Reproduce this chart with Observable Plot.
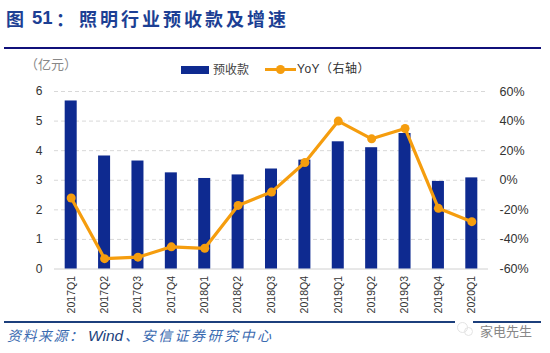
<!DOCTYPE html>
<html><head><meta charset="utf-8">
<script src="https://cdn.jsdelivr.net/npm/d3@7"></script>
<script src="https://cdn.jsdelivr.net/npm/@observablehq/plot@0.6"></script>
<style>
html,body{margin:0;padding:0;background:#fff;width:550px;height:353px;overflow:hidden;font-family:"Noto Sans CJK SC","Noto Sans",sans-serif}
#wrap{position:relative;width:550px;height:353px}
#wrap svg{position:absolute;left:0;top:0;background:transparent}
.t{position:absolute;white-space:nowrap;line-height:1}
.r{position:absolute;left:4px;width:537px;height:2px}
</style></head><body>
<div id="wrap">
<div id="chart"></div>
<div class="t" style="left:6px;top:9px;font-size:18px;font-weight:700;color:#1c3f94">图</div>
<div class="t" style="left:32px;top:9px;font-size:18.5px;font-weight:700;color:#1c3f94;font-family:'Liberation Sans'">51</div>
<div class="t" style="left:56px;top:9px;font-size:18px;font-weight:700;color:#1c3f94">：</div>
<div class="t" style="left:79px;top:9px;font-size:18px;font-weight:700;color:#1c3f94;letter-spacing:3px">照明行业预收款及增速</div>
<div class="r" style="top:46.5px;background:#10107a"></div>
<div class="r" style="top:321px;background:#1c3f7c"></div>
<div style="position:absolute;left:455px;top:318px;width:18px;height:16px;background:#fff"></div>
<div style="position:absolute;left:457px;top:322px;width:9px;height:9px;border-radius:50%;border:1.5px solid #e4e4e4"></div>
<div style="position:absolute;left:464px;top:327px;width:7px;height:7px;border-radius:50%;border:1.5px solid #e4e4e4"></div>
<div class="t" style="left:25px;top:57px;font-size:13px;color:#888">（亿元）</div>
<div style="position:absolute;left:181px;top:65.5px;width:28px;height:8px;background:#0e2a90"></div>
<div class="t" style="left:213px;top:63px;font-size:12px;color:#444">预收款</div>
<div style="position:absolute;left:265px;top:68px;width:31px;height:3px;background:#f59d0e"></div>
<div style="position:absolute;left:276px;top:65px;width:9px;height:9px;border-radius:50%;background:#f59d0e"></div>
<div class="t" style="left:297px;top:63px;font-size:12px;color:#333;letter-spacing:.5px;font-family:'Liberation Sans','Noto Sans CJK SC'">YoY（右轴）</div>
<div class="t" style="left:7px;top:328px;font-size:14px;font-style:italic;color:#3a6ab0;letter-spacing:1.5px">资料来源：</div>
<div class="t" style="left:88px;top:328px;font-size:15.5px;font-style:italic;color:#1c3f7c;font-family:'Liberation Sans'">Wind</div>
<div class="t" style="left:125px;top:328px;font-size:14px;font-style:italic;color:#3a6ab0;letter-spacing:2.5px">、安信证券研究中心</div>
<div class="t" style="left:480px;top:324px;font-size:13px;color:#888">家电先生</div>
</div>
<script>
const quarters = ["2017Q1","2017Q2","2017Q3","2017Q4","2018Q1","2018Q2","2018Q3","2018Q4","2019Q1","2019Q2","2019Q3","2019Q4","2020Q1"];
const receipts = [5.68,3.82,3.65,3.25,3.06,3.18,3.38,3.68,4.30,4.10,4.58,2.96,3.08];
const yoy = [-12,-53,-52,-45,-46,-17,-8,12,40,28,35,-19,-28];
const leftTicks = [0,1,2,3,4,5,6];
const rightLabels = ["-60%","-40%","-20%","0%","20%","40%","60%"];

// YoY is plotted on the right axis: -60%..60% shares the height of 0..6
const toLeft = v => (v + 60) / 20;
const rows = quarters.map((q,i)=>({q, v:receipts[i], y:toLeft(yoy[i])}));

const chart = Plot.plot({
  width:550, height:353,
  marginLeft:54, marginRight:62, marginTop:91, marginBottom:84.5,
  style:{fontFamily:"'Liberation Sans',sans-serif", background:"transparent"},
  x:{type:"band", domain:quarters, paddingInner:0.64, paddingOuter:0.32, align:0.5, round:false, label:null},
  y:{domain:[0,6], label:null},
  marks:[
    Plot.ruleY(leftTicks.slice(1),{stroke:"#d8d8d8", strokeDasharray:"4 3", strokeWidth:1}),
    Plot.ruleY([0],{stroke:"#d0d0d0", strokeWidth:1}),
    Plot.barY(rows,{x:"q", y:"v", fill:"#0e2a90"}),
    Plot.line(rows,{x:"q", y:"y", stroke:"#f59d0e", strokeWidth:3.2, curve:"linear"}),
    Plot.dot(rows,{x:"q", y:"y", r:4.5, fill:"#f59d0e", stroke:"none"}),
    Plot.axisX({tickRotate:-90, tickSize:0, tickPadding:7, fontSize:10.5, color:"#333", label:null}),
    Plot.axisY({ticks:leftTicks, tickSize:0, tickPadding:12, fontSize:12, color:"#333", label:null, tickFormat:d=>String(d)}),
    Plot.axisY({anchor:"right", ticks:leftTicks, tickSize:0, tickPadding:11, fontSize:12.5, color:"#333", label:null, textAnchor:"start", tickFormat:d=>rightLabels[d]})
  ]
});
document.getElementById("chart").appendChild(chart);
</script>
</body></html>
